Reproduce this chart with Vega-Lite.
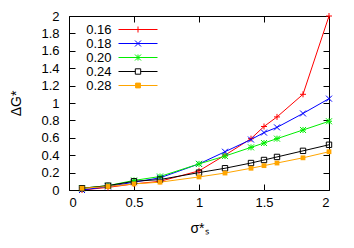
{
  "$schema": "https://vega.github.io/schema/vega-lite/v6.json",
  "width": 260,
  "height": 174,
  "autosize": "none",
  "padding": {"left": 69, "top": 16, "right": 25, "bottom": 58},
  "background": "white",
  "config": {
    "view": {"stroke": "black", "strokeWidth": 1},
    "font": "Liberation Sans",
    "axis": {"grid": false, "domain": false, "tickColor": "black", "tickSize": -6, "tickWidth": 1, "labelFont": "Liberation Sans", "labelFontSize": 13, "labelColor": "black", "titleFont": "Liberation Sans", "titleFontSize": 14, "titleFontWeight": "normal", "titleColor": "black"}
  },
  "data": {"values": [
    {"s": 0.1, "g": 0.0, "p": "0.16"}, {"s": 0.3, "g": 0.03, "p": "0.16"}, {"s": 0.5, "g": 0.07, "p": "0.16"}, {"s": 0.7, "g": 0.10, "p": "0.16"}, {"s": 1.0, "g": 0.22, "p": "0.16"}, {"s": 1.2, "g": 0.40, "p": "0.16"}, {"s": 1.4, "g": 0.59, "p": "0.16"}, {"s": 1.5, "g": 0.73, "p": "0.16"}, {"s": 1.6, "g": 0.84, "p": "0.16"}, {"s": 1.8, "g": 1.10, "p": "0.16"}, {"s": 2.0, "g": 2.0, "p": "0.16"},
    {"s": 0.1, "g": 0.0, "p": "0.18"}, {"s": 0.3, "g": 0.04, "p": "0.18"}, {"s": 0.5, "g": 0.09, "p": "0.18"}, {"s": 0.7, "g": 0.14, "p": "0.18"}, {"s": 1.0, "g": 0.30, "p": "0.18"}, {"s": 1.2, "g": 0.44, "p": "0.18"}, {"s": 1.4, "g": 0.58, "p": "0.18"}, {"s": 1.5, "g": 0.66, "p": "0.18"}, {"s": 1.6, "g": 0.72, "p": "0.18"}, {"s": 1.8, "g": 0.88, "p": "0.18"}, {"s": 2.0, "g": 1.05, "p": "0.18"},
    {"s": 0.1, "g": 0.02, "p": "0.20"}, {"s": 0.3, "g": 0.05, "p": "0.20"}, {"s": 0.5, "g": 0.11, "p": "0.20"}, {"s": 0.7, "g": 0.155, "p": "0.20"}, {"s": 1.0, "g": 0.30, "p": "0.20"}, {"s": 1.2, "g": 0.39, "p": "0.20"}, {"s": 1.4, "g": 0.49, "p": "0.20"}, {"s": 1.5, "g": 0.54, "p": "0.20"}, {"s": 1.6, "g": 0.59, "p": "0.20"}, {"s": 1.8, "g": 0.69, "p": "0.20"}, {"s": 2.0, "g": 0.79, "p": "0.20"},
    {"s": 0.1, "g": 0.02, "p": "0.24"}, {"s": 0.3, "g": 0.05, "p": "0.24"}, {"s": 0.5, "g": 0.10, "p": "0.24"}, {"s": 0.7, "g": 0.12, "p": "0.24"}, {"s": 1.0, "g": 0.20, "p": "0.24"}, {"s": 1.2, "g": 0.25, "p": "0.24"}, {"s": 1.4, "g": 0.31, "p": "0.24"}, {"s": 1.5, "g": 0.345, "p": "0.24"}, {"s": 1.6, "g": 0.38, "p": "0.24"}, {"s": 1.8, "g": 0.45, "p": "0.24"}, {"s": 2.0, "g": 0.52, "p": "0.24"},
    {"s": 0.1, "g": 0.02, "p": "0.28"}, {"s": 0.3, "g": 0.04, "p": "0.28"}, {"s": 0.5, "g": 0.07, "p": "0.28"}, {"s": 0.7, "g": 0.09, "p": "0.28"}, {"s": 1.0, "g": 0.15, "p": "0.28"}, {"s": 1.2, "g": 0.195, "p": "0.28"}, {"s": 1.4, "g": 0.25, "p": "0.28"}, {"s": 1.5, "g": 0.28, "p": "0.28"}, {"s": 1.6, "g": 0.31, "p": "0.28"}, {"s": 1.8, "g": 0.37, "p": "0.28"}, {"s": 2.0, "g": 0.44, "p": "0.28"}
  ]},
  "resolve": {"axis": {"x": "independent", "y": "independent"}},
  "layer": [
    {
      "mark": {"type": "line", "strokeWidth": 1},
      "encoding": {
        "x": {"field": "s", "type": "quantitative", "scale": {"domain": [0, 2], "nice": false, "zero": false},
              "axis": {"orient": "bottom", "values": [0, 0.5, 1, 1.5, 2], "format": "~g", "labelPadding": 12, "title": "σ*ₛ", "titlePadding": 12}},
        "y": {"field": "g", "type": "quantitative", "scale": {"domain": [0, 2], "nice": false, "zero": false},
              "axis": {"orient": "left", "values": [0, 0.2, 0.4, 0.6, 0.8, 1, 1.2, 1.4, 1.6, 1.8, 2], "format": "~g", "labelPadding": 16, "title": "ΔG*", "titlePadding": 17}},
        "color": {"field": "p", "type": "nominal",
                  "scale": {"domain": ["0.16", "0.18", "0.20", "0.24", "0.28"], "range": ["#ff0000", "#0000ff", "#00ee00", "#000000", "#ffa500"]},
                  "legend": {
                    "orient": "none", "legendX": 62.5, "legendY": 7, "title": null, "padding": 0,
                    "labelAlign": "right", "labelOffset": -33, "labelFontSize": 13, "labelFont": "Liberation Sans", "labelColor": "black",
                    "symbolSize": 36, "symbolStrokeWidth": 1, "rowPadding": -0.5,
                    "encode": {"symbols": {"update": {
                      "shape": {"signal": "datum.value === '0.16' ? 'M-6.5,0H6.5M0,-1V1' : datum.value === '0.18' ? 'M-6.5,0H6.5M-1,-1L1,1M-1,1L1,-1' : datum.value === '0.20' ? 'M-6.5,0H6.5M0,-1V1M-1,-1L1,1M-1,1L1,-1' : datum.value === '0.24' ? 'M-6.5,0H-0.9M0.9,0H6.5M-0.9,-0.9H0.9V0.9H-0.9Z' : 'M-6.5,0H6.5M-0.8,-0.8H0.8V0.8H-0.8Z'"},
                      "fill": {"signal": "datum.value === '0.28' ? '#ffa500' : 'transparent'"},
                      "strokeWidth": {"value": 1},
                      "opacity": {"value": 1}
                    }}}
                  }}
      }
    },
    {
      "transform": [{"filter": "datum.p === '0.16'"}],
      "mark": {"type": "point", "filled": false, "strokeWidth": 1, "size": 36, "opacity": 1, "color": "#ff0000", "shape": "M-1,0H1M0,-1V1"},
      "encoding": {
        "x": {"field": "s", "type": "quantitative", "axis": {"orient": "top", "values": [0, 0.5, 1, 1.5, 2], "labels": false, "title": null}},
        "y": {"field": "g", "type": "quantitative", "axis": {"orient": "right", "values": [0, 0.2, 0.4, 0.6, 0.8, 1, 1.2, 1.4, 1.6, 1.8, 2], "labels": false, "title": null}}
      }
    },
    {
      "transform": [{"filter": "datum.p === '0.18'"}],
      "mark": {"type": "point", "filled": false, "strokeWidth": 1, "size": 36, "opacity": 1, "color": "#0000ff", "shape": "M-1,-1L1,1M-1,1L1,-1"},
      "encoding": {
        "x": {"field": "s", "type": "quantitative", "axis": null},
        "y": {"field": "g", "type": "quantitative", "axis": null}
      }
    },
    {
      "transform": [{"filter": "datum.p === '0.20'"}],
      "mark": {"type": "point", "filled": false, "strokeWidth": 1, "size": 36, "opacity": 1, "color": "#00ee00", "shape": "M-1,0H1M0,-1V1M-1,-1L1,1M-1,1L1,-1"},
      "encoding": {
        "x": {"field": "s", "type": "quantitative", "axis": null},
        "y": {"field": "g", "type": "quantitative", "axis": null}
      }
    },
    {
      "transform": [{"filter": "datum.p === '0.24'"}],
      "mark": {"type": "point", "filled": false, "strokeWidth": 1, "size": 36, "opacity": 1, "color": "#000000", "shape": "M-0.9,-0.9H0.9V0.9H-0.9Z"},
      "encoding": {
        "x": {"field": "s", "type": "quantitative", "axis": null},
        "y": {"field": "g", "type": "quantitative", "axis": null}
      }
    },
    {
      "transform": [{"filter": "datum.p === '0.28'"}],
      "mark": {"type": "square", "filled": true, "size": 23, "color": "#ffa500", "opacity": 1},
      "encoding": {
        "x": {"field": "s", "type": "quantitative", "axis": null},
        "y": {"field": "g", "type": "quantitative", "axis": null}
      }
    }
  ]
}
